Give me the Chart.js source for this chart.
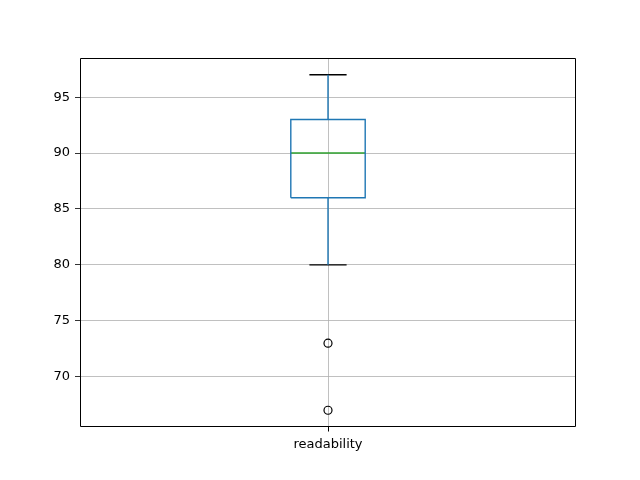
<!DOCTYPE html>
<html>
<head>
<meta charset="utf-8">
<script src="https://cdn.jsdelivr.net/npm/chart.js@4/dist/chart.umd.min.js"></script>
<style>
  html, body { margin: 0; padding: 0; background: #fff; }
  #wrap { width: 640px; height: 480px; }
</style>
</head>
<body>
<div id="wrap"><canvas id="boxChart" width="640" height="480"></canvas></div>
<script>
// box plot summary for one column
const categories = ['readability'];
const q1 = [86];
const median = [90];
const q3 = [93];
const whiskerLow = [80];
const whiskerHigh = [97];
const outliers = [[73, 67]];
const yTicks = [70, 75, 80, 85, 90, 95];

const BLUE = '#1f77b4';
const GREEN = '#2ca02c';
const boxHalf = 0.075;
const capHalf = 0.0375;

// build line segments from the summary values (null breaks the line)
let boxPts = [], whiskerPts = [], capPts = [], medianPts = [], outlierPts = [];
categories.forEach((c, i) => {
  const x = i + 1;
  boxPts.push(
    { x: x - boxHalf, y: q1[i] }, { x: x + boxHalf, y: q1[i] },
    { x: x + boxHalf, y: q3[i] }, { x: x - boxHalf, y: q3[i] },
    { x: x - boxHalf, y: q1[i] }, { x: x, y: null }
  );
  whiskerPts.push(
    { x: x, y: q1[i] }, { x: x, y: whiskerLow[i] }, { x: x, y: null },
    { x: x, y: q3[i] }, { x: x, y: whiskerHigh[i] }, { x: x, y: null }
  );
  capPts.push(
    { x: x - capHalf, y: whiskerLow[i] }, { x: x + capHalf, y: whiskerLow[i] }, { x: x, y: null },
    { x: x - capHalf, y: whiskerHigh[i] }, { x: x + capHalf, y: whiskerHigh[i] }, { x: x, y: null }
  );
  medianPts.push({ x: x - boxHalf, y: median[i] }, { x: x + boxHalf, y: median[i] }, { x: x, y: null });
  outliers[i].forEach(v => outlierPts.push({ x: x, y: v }));
});

// all four spines, plus the x tick marks under each category
const frame = {
  id: 'frame',
  afterDatasetsDraw(chart) {
    const { ctx, chartArea: a } = chart;
    const xs = chart.scales.x;
    const l = Math.round(a.left) + 0.5, r = Math.round(a.right) - 0.5;
    const t = Math.round(a.top) + 0.5, b = Math.round(a.bottom) - 0.5;
    ctx.save();
    ctx.strokeStyle = '#000';
    ctx.lineWidth = 1;
    ctx.beginPath();
    ctx.rect(l, t, r - l, b - t);
    categories.forEach((c, i) => {
      const px = Math.round(xs.getPixelForValue(i + 1)) + 0.5;
      ctx.moveTo(px, b);
      ctx.lineTo(px, b + 5);
    });
    ctx.stroke();
    ctx.restore();
  }
};

function seg(data, color) {
  return {
    type: 'line', data: data, borderColor: color, borderWidth: 1.4,
    pointRadius: 0, fill: false, spanGaps: false, tension: 0
  };
}

const isCat = (c) => !!(c.tick && categories[c.tick.value - 1] !== undefined);

const ctx = document.getElementById('boxChart').getContext('2d');
new Chart(ctx, {
  type: 'scatter',
  data: {
    datasets: [
      seg(boxPts, BLUE),
      seg(whiskerPts, BLUE),
      seg(capPts, '#000'),
      seg(medianPts, GREEN),
      {
        type: 'scatter', data: outlierPts,
        pointStyle: 'circle', pointRadius: 4,
        pointBorderColor: '#000', pointBackgroundColor: 'rgba(0,0,0,0)',
        pointBorderWidth: 1.2
      }
    ]
  },
  options: {
    responsive: false,
    animation: false,
    layout: { padding: { left: 0, top: 58, right: 64, bottom: 0 } },
    plugins: { legend: { display: false }, tooltip: { enabled: false } },
    scales: {
      x: {
        type: 'linear', min: 0.5, max: 1.5,
        afterBuildTicks: (s) => { s.ticks = categories.map((c, i) => ({ value: i + 1 })); },
        afterFit: (s) => { s.height = 53; },
        ticks: {
          callback: (v) => categories[Math.round(v) - 1] || '',
          color: '#000', font: { family: 'DejaVu Sans', size: 13 }, padding: 10,
          maxRotation: 0
        },
        grid: {
          color: (c) => (isCat(c) ? '#b0b0b0' : 'rgba(0,0,0,0)'),
          lineWidth: 0.8,
          drawTicks: false
        },
        border: { display: false }
      },
      y: {
        min: 65.5, max: 98.5,
        afterBuildTicks: (s) => { s.ticks = yTicks.map(v => ({ value: v })); },
        afterFit: (s) => { s.width = 80; },
        ticks: {
          color: '#000', font: { family: 'DejaVu Sans', size: 13 }, padding: 5
        },
        grid: { color: '#b0b0b0', lineWidth: 0.8, tickColor: '#000', tickLength: 5 },
        border: { display: false }
      }
    }
  },
  plugins: [frame]
});
</script>
</body>
</html>
